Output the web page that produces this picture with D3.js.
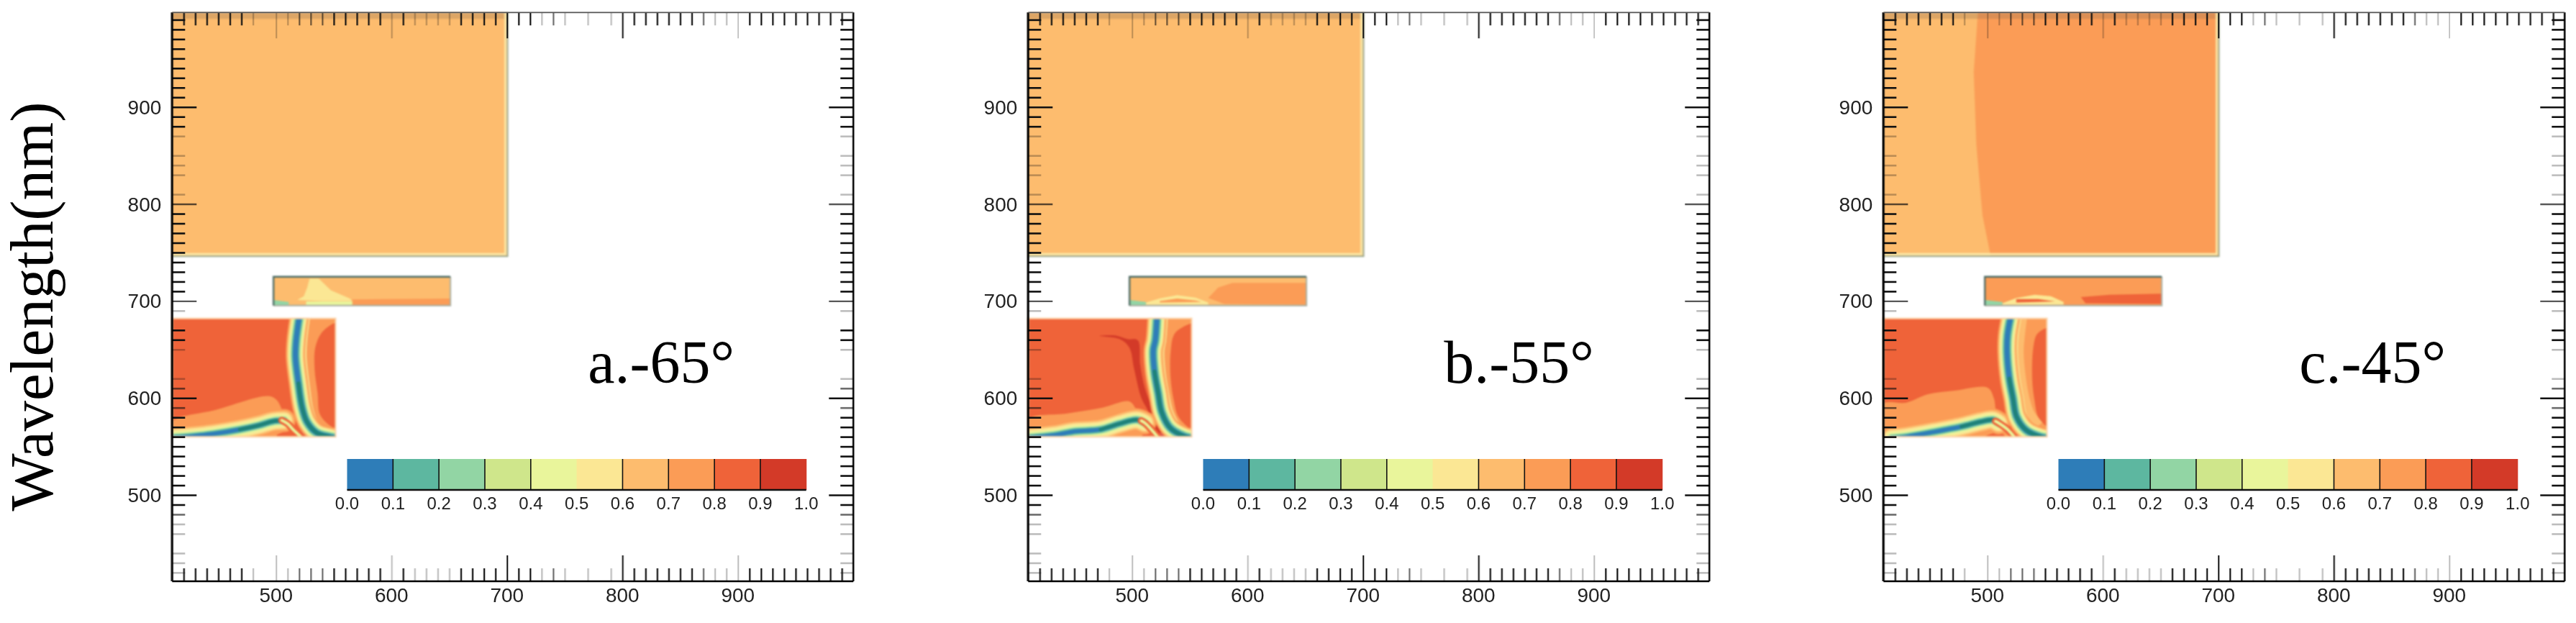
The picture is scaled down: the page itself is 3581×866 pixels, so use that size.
<!DOCTYPE html>
<html><head><meta charset="utf-8">
<script src="https://cdn.jsdelivr.net/npm/d3@7"></script>
<style>html,body{margin:0;background:#fff}svg{display:block}</style></head>
<body><svg id="c" width="3581" height="866"></svg>
<script>
// ---- data (all in nm) ----
const panelLabels = ["a.-65°", "b.-55°", "c.-45°"];
const axisTitle = "Wavelength(nm)";
const xMajor = [500, 600, 700, 800, 900];
const yMajor = [500, 600, 700, 800, 900];
const barTicks = [0, .1, .2, .3, .4, .5, .6, .7, .8, .9, 1];
const barDividers = [.1, .2, .3, .4, .6, .7, .8, .9];
const bandColors = ["#2E7DB8","#5DB7A0","#92D5A4","#CFE68B","#E9F59B","#FBE794","#FDBC6E","#FB9C56","#EF6339","#D33A28"];
// tick visibility pattern as it appears in the picture (lost, pale and mid ticks)
const xGone = [410, 490, 760, 780];
const xPale = [480, 500, 510, 600, 620, 630, 640, 650, 730, 750, 770, 790, 880, 890, 900];
const xMid = [520, 530, 540, 740, 870];
const yGone = [450, 630, 640, 680, 820, 860];
const yPale = [420, 430, 440, 460, 470, 620, 650, 690, 810, 830, 840, 850, 870];
const yMid = [480, 590, 610, 700, 800];

const bigBlock = {x0: 410, x1: 700.5, y0: 746, y1: 997.5};
const midBlock = {x0: 497.8, x1: 651, y0: 695.3, y1: 725};
const lowBlock = {x0: 410, x1: 551.5, y0: 560, y1: 682};
const bigBaseValues = [.65, .65, .65];
const midBaseValues = [.65, .65, .75];

// big block of panel c: boundary between the .65 and .75 bands
const bigEdgeC = [[491.8,997.5],[488.2,936],[490.4,862],[495.8,788],[502.9,746]];

// middle block shapes
const midLightA = [[518.4,701],[524,705],[527,714],[529,723],[537,723],[547.5,711],[564,702.5],[566,700],[540,700]];
const midTanA = [[566,701.5],[590,702],[651,702.5],[651,695],[566,695]];
const midPaleA = [[526,699.5],[545,699.5],[566,699.5],[566,695.5],[526,695.5]];
const midMintA = [[497.8,701],[511,699],[511,696],[497.8,695.5]];
const midLightB = [[512,698.5],[524,702.7],[539,706],[555,703.5],[566,698.5],[566,696],[512,696]];
const midUpperB = [[566,703],[574.5,713.8],[587,718.7],[651,718.7],[651,696],[580,697]];
const midCoreB = [[524,700],[539,702.5],[555,700.5],[560,699],[524,698.5]];
const midMintB = [[497.8,701],[512,699],[512,696],[497.8,695.5]];
const midLightC = [[513,697.7],[525,703],[541,706.4],[555,705],[566,699],[566,696],[513,696]];
const midRedC = [[581,703.9],[606,706.4],[651,707.6],[651,697],[585,697.7]];
const midCoreC = [[525,702],[544,702],[558.5,699.5],[525,698.5]];
const midMintC = [[497.8,701],[513,699],[513,696],[497.8,695.5]];

// low block of panel a
const ridgeA = [[520,683],[517.4,659.4],[516.8,642.1],[519.4,615],[522.6,590.2],[526.7,575.5],[535,564.3],[546.4,560],[553,558.5]];
const lowerA = [[405,558.5],[427,560.5],[445.7,563],[468.6,567.5],[485.2,571.8],[497.6,576],[507,576.7]];
const linkA = [[505,577],[510,573.5],[514.3,568],[521.5,560]];
const wedgeA = [[410,575.5],[447.8,587.8],[493.5,602],[500.8,597.6],[507,582.9],[518.4,560],[410,560]];
const rightA = [[520,682],[517.4,659.4],[516.8,642],[519.4,615],[522.6,590],[526.7,575.5],[535,564.3],[546.4,560],[552,560],[552,682]];
const innerA = [[549.6,676.7],[539.2,666.8],[534,652],[533.4,629.8],[536,605],[538.1,582.9],[546.4,571.8],[550.6,569.3],[552,569],[552,677]];
const pocketA = [[485.2,560],[497.6,569.3],[510.1,570.5],[518.4,563],[520.5,560]];
const patchA = [[500.8,561.8],[512,566],[516,565],[517,560],[501,560]];
const patch2A = [[522,566],[529,566],[533,560],[523,560]];
const shoulderA = [[527,683],[524.5,659],[524,642],[526.5,615],[529.5,590],[533,577],[541,566],[553,562]];
// low block of panel b
const ridgeB = [[521.5,683],[520.1,659.4],[518.4,649.5],[519.4,627.3],[522.6,605],[525.7,585.3],[532.9,569.3],[545.4,560.5],[553,558.5]];
const lowerB = [[405,558.5],[433.3,561.8],[449.9,565.5],[472.7,567.5],[489.3,573.5],[503.9,577.5],[511.1,574.2]];
const linkB = [[508,576.5],[511.1,574.2],[516.3,568],[522,560]];
const wedgeB = [[410,578],[443.6,584],[474.8,590.2],[497.6,596.4],[503.9,587.8],[511.1,574.2],[521.5,560],[410,560]];
const rightB = [[521.5,682],[520.1,659.4],[518.4,649.5],[519.4,627.3],[522.6,605],[525.7,585.3],[532.9,569.3],[545.4,560.5],[552,560],[552,682]];
const innerB = [[550.6,676.7],[537.1,666.8],[533.4,647],[533.4,619.9],[536.1,597.6],[540.2,580.4],[550.6,568],[552,568],[552,677]];
const pocketB = [[489,560],[499.7,569.3],[512.2,569.3],[518.8,560]];
const patchB = [[508,560],[512,564],[515,564],[517,560]];
const patch2B = [[524,564],[530,562],[533,560],[523,560]];
const shoulderB = [[528.5,683],[527,659],[525.5,649],[526.5,627],[529.5,605],[533,586],[540,571],[553,562]];
const streakB = [[471.7,663.9],[485.2,664.4],[495.6,660.7],[504.9,659.4],[507,634.7],[511.1,610],[517.4,590.2],[521.5,580.4],[524.6,563],[519.4,560.5],[514.3,585.3],[508,600.1],[501.8,629.8],[497.6,652],[489.3,660.7]];
// low block of panel c
const ridgeC = [[520,683],[517.4,664.4],[517,647],[519,619.9],[522.1,600.1],[525.3,580.4],[533.6,566.8],[546,560],[553,558.5]];
const lowerC = [[417,558.5],[429.7,560],[450.5,564.3],[477.5,570.5],[494.1,575.5],[504.5,577.5],[509.7,574.2]];
const linkC = [[507,576],[509.7,574.2],[517,568],[523.2,560]];
const wedgeC = [[410,594],[429.7,595.2],[448.4,603.8],[471.3,607.5],[500.3,610.5],[505.5,600.1],[508.7,580.4],[521.1,560],[410,560]];
const rightC = [[520,682],[517.4,664.4],[517,647],[519,619.9],[522.1,600.1],[525.3,580.4],[533.6,566.8],[546,560],[552,560],[552,682]];
const innerC = [[550.2,671.8],[542.9,665.6],[539.8,652],[538.8,619.9],[540.8,597.6],[544,580.4],[551.2,570.5],[552,570],[552,672]];
const pocketC = [[488,560],[497,569],[510,569],[517,560]];
const patchC = [[498,560],[506,564],[512,564],[515,560]];
const patch2C = [[522,564],[528,562],[531,560],[522,560]];
const shoulderC = [[527,683],[524.5,664],[524,647],[526,620],[529,600],[532,581],[540,568],[553,562]];
const shoulder2C = [[531,683],[529,664],[528,647],[530,620],[533,600],[537,585],[545,572]];

const panels = [
 {label: panelLabels[0], big: bigBaseValues[0], mid: midBaseValues[0], ridge: ridgeA, lower: lowerA, link: linkA, wedge: wedgeA, right: rightA, inner: innerA, pocket: pocketA, patch: patchA, patch2: patch2A, shoulder: shoulderA},
 {label: panelLabels[1], big: bigBaseValues[1], mid: midBaseValues[1], ridge: ridgeB, lower: lowerB, link: linkB, wedge: wedgeB, right: rightB, inner: innerB, pocket: pocketB, patch: patchB, patch2: patch2B, shoulder: shoulderB, streak: streakB},
 {label: panelLabels[2], big: bigBaseValues[2], mid: midBaseValues[2], ridge: ridgeC, lower: lowerC, link: linkC, wedge: wedgeC, right: rightC, inner: innerC, pocket: pocketC, patch: patchC, patch2: patch2C, shoulder: shoulderC, shoulder2: shoulder2C, bigEdge: bigEdgeC}
];
const midShapes = [
 [[midTanA,.72],[midLightA,.55],[midPaleA,.47],[midMintA,.25]],
 [[midUpperB,.75],[midLightB,.55],[midCoreB,.72],[midMintB,.25]],
 [[midRedC,.85],[midLightC,.55],[midCoreC,.85],[midMintC,.25]]
];

// ---- drawing ----
const svg = d3.select("#c");
const lefts = [239.3, 1429.3, 2618.3];
const W = 947, T = 17.3, B = 808;
const color = d3.scaleQuantize().domain([0, 1]).range(bandColors);
const tealCore = "#1E8278";
const fontSans = "'Liberation Sans',Arial,sans-serif", fontSerif = "'Liberation Serif',serif";

function pattern(v, gone, pale, mid) {
  return gone.includes(v) ? 0 : pale.includes(v) ? .28 : mid.includes(v) ? .62 : 1;
}

panels.forEach((p, i) => {
  const L = lefts[i];
  const x = d3.scaleLinear().domain([410, 1000]).range([0, W]);
  const y = d3.scaleLinear().domain([411, 997.5]).range([B, T]);
  const g = svg.append("g").attr("transform", `translate(${L},0)`);
  const poly = d3.line().x(d => x(d[0])).y(d => y(d[1])).curve(d3.curveLinearClosed);
  const smoothClosed = d3.line().x(d => x(d[0])).y(d => y(d[1])).curve(d3.curveCatmullRomClosed.alpha(.5));
  const curve = d3.line().x(d => x(d[0])).y(d => y(d[1])).curve(d3.curveCatmullRom.alpha(.5));
  const rect = (sel, b) => sel.attr("x", x(b.x0)).attr("width", x(b.x1) - x(b.x0)).attr("y", y(b.y1)).attr("height", y(b.y0) - y(b.y1));

  const defs = g.append("defs");
  [["big", bigBlock], ["mid", midBlock], ["low", lowBlock]].forEach(([n, b]) =>
    defs.append("clipPath").attr("id", `${n}${i}`).call(s => rect(s.append("rect"), b)));

  const fields = g.append("g").style("filter", "blur(0.9px)");

  // big block
  const big = fields.append("g").attr("clip-path", `url(#big${i})`);
  rect(big.append("rect"), bigBlock).attr("fill", color(p.big));
  if (p.bigEdge) {
    const area = p.bigEdge.concat([[bigBlock.x1, bigBlock.y0], [bigBlock.x1, bigBlock.y1]]);
    big.append("path").attr("d", poly(area)).attr("fill", color(.75));
  }
  fields.append("path").attr("fill", "none").attr("stroke", "#FBE8A6").attr("stroke-width", 3)
    .attr("d", `M0,${y(bigBlock.y0) - 3}H${x(bigBlock.x1) - 3}V${T}`);
  fields.append("path").attr("fill", "none").attr("stroke", "#9DAA90").attr("stroke-width", 2)
    .attr("d", `M0,${y(bigBlock.y0)}H${x(bigBlock.x1)}V${T}`);
  big.append("rect").attr("x", 0).attr("y", T).attr("width", x(bigBlock.x1)).attr("height", 9).attr("fill", "#8a6a50").attr("opacity", .28);

  // middle block
  const mid = fields.append("g").attr("clip-path", `url(#mid${i})`);
  rect(mid.append("rect"), midBlock).attr("fill", color(p.mid));
  midShapes[i].forEach(([pts, v]) => {
    mid.append("path").attr("d", poly(pts)).attr("fill", color(v));
  });
  fields.append("path").attr("fill", "none").attr("stroke", "#A9AFA2").attr("stroke-width", 2)
    .attr("d", `M${x(midBlock.x0)},${y(midBlock.y0)}H${x(midBlock.x1)}V${y(midBlock.y1)}`);
  fields.append("path").attr("fill", "none").attr("stroke", "#4B6A62").attr("stroke-width", 2.4)
    .attr("d", `M${x(midBlock.x0)},${y(midBlock.y0)}V${y(midBlock.y1)}H${x(midBlock.x1)}`);

  // low block
  const low = fields.append("g").attr("clip-path", `url(#low${i})`);
  rect(low.append("rect"), lowBlock).attr("fill", color(.85));
  low.append("path").attr("d", poly(p.right)).attr("fill", color(.75));
  low.append("path").attr("d", smoothClosed(p.inner)).attr("fill", color(.85));
  low.append("path").attr("d", smoothClosed(p.wedge)).attr("fill", color(.75));
  if (p.streak) low.append("path").attr("d", smoothClosed(p.streak)).attr("fill", color(.95));
  if (p.shoulder2) low.append("path").attr("d", curve(p.shoulder2)).attr("fill", "none").attr("stroke", color(.65)).attr("stroke-width", 11);
  low.append("path").attr("d", curve(p.shoulder)).attr("fill", "none").attr("stroke", color(.55)).attr("stroke-width", 8);
  low.append("path").attr("d", smoothClosed(p.pocket)).attr("fill", color(.75));
  low.append("path").attr("d", smoothClosed(p.patch)).attr("fill", color(.85));
  low.append("path").attr("d", smoothClosed(p.patch2)).attr("fill", "#DE5B4D");
  const ridgeBands = [[.75, 27], [.65, 24], [.5, 21], [.45, 18], [.25, 13], [.15, 10], [.05, 7]];
  const lowerBands = [[.75, 32], [.65, 27], [.5, 22], [.45, 16], [.25, 11], [.15, 8], [.05, 5.5]];
  const stroked = (sel, d, c, w) => sel.append("path").attr("d", d).attr("fill", "none").attr("stroke", c).attr("stroke-width", w).attr("stroke-linecap", "round").attr("stroke-linejoin", "round");
  lowerBands.forEach(([v, w]) => stroked(low, curve(p.lower), color(v), w));
  stroked(low, curve(p.lower.slice(3)), tealCore, 5);
  stroked(low, curve(p.link), color(.85), 10);
  stroked(low, curve(p.link), color(.45), 4);
  ridgeBands.forEach(([v, w]) => stroked(low, curve(p.ridge), color(v), w));
  stroked(low, curve(p.ridge.slice(3)), tealCore, 5.5);
  fields.append("rect").call(s => rect(s, lowBlock)).attr("fill", "none").attr("stroke", "#FBD2A8").attr("stroke-width", 2.5).attr("opacity", .8);

  // axes: ticks inside on all four sides
  const xMinor = d3.range(410, 1000, 10).filter(v => !xMajor.includes(v));
  const yMinor = d3.range(420, 1000, 10).filter(v => !yMajor.includes(v));
  const strip = sel => sel.select(".domain").remove();
  const ticks = g.append("g").style("filter", "blur(0.45px)");
  const xAxes = [[d3.axisBottom, B], [d3.axisTop, T]];
  xAxes.forEach(([gen, yy]) => {
    ticks.append("g").attr("transform", `translate(0,${yy})`)
      .call(gen(x).tickValues(xMinor).tickSize(-18).tickFormat(""))
      .call(strip).selectAll("line").attr("stroke", "#111").attr("stroke-width", 2.2)
      .attr("opacity", d => pattern(d, xGone, xPale, xMid));
    ticks.append("g").attr("transform", `translate(0,${yy})`)
      .call(gen(x).tickValues(xMajor).tickSize(-36).tickFormat(""))
      .call(strip).selectAll("line").attr("stroke", "#111").attr("stroke-width", 2)
      .attr("opacity", d => pattern(d, xGone, xPale, xMid));
  });
  const yAxes = [[d3.axisLeft, 0], [d3.axisRight, W]];
  yAxes.forEach(([gen, xx]) => {
    ticks.append("g").attr("transform", `translate(${xx},0)`)
      .call(gen(y).tickValues(yMinor).tickSize(-18).tickFormat(""))
      .call(strip).selectAll("line").attr("stroke", "#111").attr("stroke-width", 2.6)
      .attr("opacity", d => pattern(d, yGone, yPale, yMid));
    ticks.append("g").attr("transform", `translate(${xx},0)`)
      .call(gen(y).tickValues(yMajor).tickSize(-34).tickFormat(""))
      .call(strip).selectAll("line").attr("stroke", "#111").attr("stroke-width", 2.4)
      .attr("opacity", d => d === 800 || d === 700 ? .7 : 1);
  });
  // frame
  ticks.append("line").attr("x1", 0).attr("x2", 0).attr("y1", T).attr("y2", B).attr("stroke", "#000").attr("stroke-width", 3);
  ticks.append("line").attr("x1", W).attr("x2", W).attr("y1", T).attr("y2", B).attr("stroke", "#000").attr("stroke-width", 2.6);
  ticks.append("line").attr("x1", 0).attr("x2", W).attr("y1", B).attr("y2", B).attr("stroke", "#000").attr("stroke-width", 2.6);
  ticks.append("line").attr("x1", 0).attr("x2", W).attr("y1", T).attr("y2", T).attr("stroke", "#555").attr("stroke-width", 1.8);

  // tick labels
  const labels = g.append("g").style("filter", "blur(0.5px)").attr("font-family", fontSans).attr("fill", "#222");
  labels.selectAll(".xl").data(xMajor).join("text").attr("class", "xl")
    .attr("x", d => x(d)).attr("y", 837).attr("text-anchor", "middle").attr("font-size", 28).text(d => d);
  labels.selectAll(".yl").data(yMajor).join("text").attr("class", "yl")
    .attr("x", -15).attr("y", d => y(d) + 10).attr("text-anchor", "end").attr("font-size", 28).text(d => d);

  // colour bar
  const barX = d3.scaleLinear().domain([0, 1]).range([243.2, 881.5]);
  const bar = g.append("g");
  const barTop = 638, barBot = 681;
  bar.selectAll("rect").data(bandColors).join("rect")
    .attr("x", (d, k) => barX(k / 10)).attr("width", barX(.1) - barX(0) + .5)
    .attr("y", barTop).attr("height", barBot - barTop).attr("fill", d => d);
  bar.selectAll("line.div").data(barDividers).join("line").attr("class", "div")
    .attr("x1", d => barX(d)).attr("x2", d => barX(d)).attr("y1", barTop).attr("y2", barBot)
    .attr("stroke", "#111").attr("stroke-width", 1.6);
  bar.append("line").attr("x1", barX(0)).attr("x2", barX(1)).attr("y1", barBot).attr("y2", barBot).attr("stroke", "#111").attr("stroke-width", 2.6);
  labels.selectAll(".bl").data(barTicks).join("text").attr("class", "bl")
    .attr("x", d => barX(d)).attr("y", 708).attr("text-anchor", "middle").attr("font-size", 24).text(d => d.toFixed(1));

  // panel label
  g.append("text").attr("x", 578).attr("y", 532).attr("font-family", fontSerif).attr("font-size", 84).attr("fill", "#000").text(p.label);
});

svg.append("text").attr("transform", "translate(73,426) rotate(-90)").attr("text-anchor", "middle")
  .attr("font-family", fontSerif).attr("font-size", 85).attr("fill", "#000").text(axisTitle);
</script></body></html>
